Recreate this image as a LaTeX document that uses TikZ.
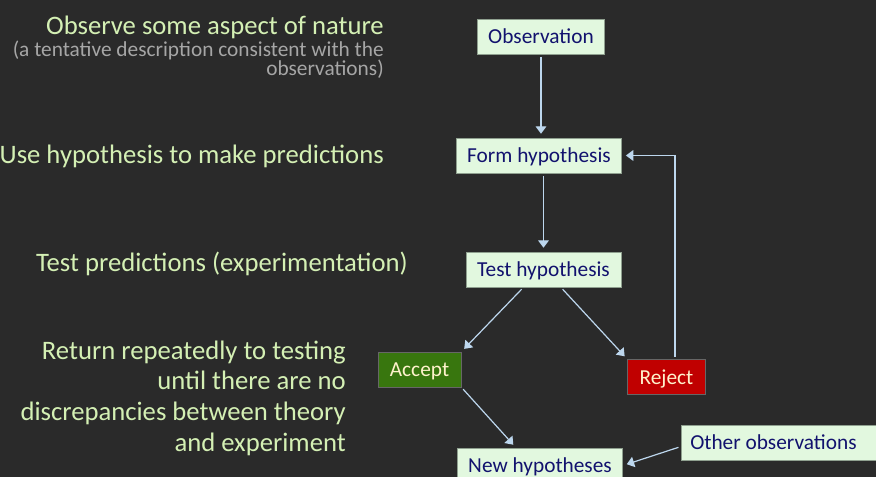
\documentclass[tikz,border=0pt]{standalone}
\usepackage{fontspec}
\setmainfont{Carlito}
\usetikzlibrary{arrows.meta}
\definecolor{bgdark}{HTML}{2A2A2A}
\definecolor{notegreen}{HTML}{D4F0B4}
\definecolor{notegray}{HTML}{A6A6A6}
\definecolor{boxfill}{HTML}{E2F8DF}
\definecolor{boxline}{HTML}{8FA08F}
\definecolor{boxtext}{HTML}{12126E}
\definecolor{acceptfill}{HTML}{38760E}
\definecolor{rejectfill}{HTML}{C00000}
\definecolor{arrowblue}{HTML}{BDD7EE}
\definecolor{cream}{HTML}{FFF2CC}
\tikzset{
  stepbox/.style={draw=boxline, fill=boxfill, text=boxtext, font=\fontsize{16}{19}\selectfont,
    inner xsep=8.2pt, minimum height=26.25pt, text height=13pt, text depth=2pt},
  verdict/.style={stepbox, draw=black!60, text=cream},
  note/.style={text=notegreen, font=\fontsize{20}{23.25}\selectfont, align=right, anchor=base east, inner sep=0pt},
  flow/.style={draw=arrowblue, line width=0.9pt, -{Triangle[width=8pt,length=5.5pt]}, shorten >=3pt, shorten <=2pt}
}

\begin{document}
\begin{tikzpicture}[x=0.75pt, y=-0.75pt]
  \clip (0,0) rectangle (876,477);
  \fill[bgdark] (0,0) rectangle (876,477);

  % notes on the left, anchored at the baseline of their last line
  \node[note] (n1) at (384,35) {Observe some aspect of nature};
  \node[note, text=notegray, font=\fontsize{16}{14.6}\selectfont] (n1b) at (384,76) {(a tentative description consistent with the\\observations)};
  \node[note] (n2) at (384,164) {Use hypothesis to make predictions};
  \node[note] (n3) at (408,272) {Test predictions (experimentation)};
  \node[note] (n4) at (346,452) {Return repeatedly to testing\\until there are no\\discrepancies between theory\\and experiment};

  \node[stepbox] (obs) at (541,36.5) {Observation};
  \node[stepbox] (form) at (539,155.5) {Form hypothesis};
  \node[stepbox] (test) at (543.5,269.5) {Test hypothesis};
  \node[verdict, fill=acceptfill, inner xsep=9pt] (accept) at (419.5,369.5) {Accept};
  \node[verdict, fill=rejectfill, inner xsep=9pt] (reject) at (666.5,377) {Reject};
  \node[stepbox] (newhyp) at (540,465.5) {New hypotheses};
  \node[stepbox, anchor=west, inner xsep=6.75pt, text width=136.5pt, align=flush left] (other) at (681,442.5) {Other observations};

  \draw[flow] (obs.south) -- (obs.south |- form.north);
  \draw[flow] (test.north |- form.south) -- (test.north);
  \draw[flow] ([xshift=-15pt]test.south) -- (accept.north east);
  \draw[flow] ([xshift=13pt]test.south) -- (reject.north west);
  \draw[flow] (accept.south east) -- ([xshift=-18pt]newhyp.north);
  \draw[flow] ([yshift=-3pt]other.west) -- (newhyp.east);
  \draw[flow] ([xshift=6.4pt]reject.north) |- (form.east);
\end{tikzpicture}
\end{document}
